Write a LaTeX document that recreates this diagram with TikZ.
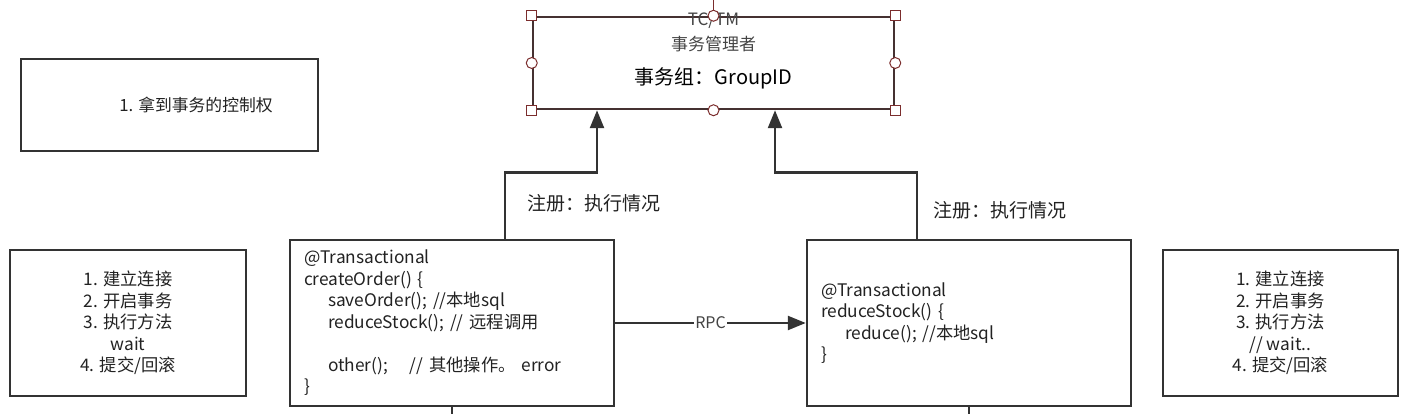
\documentclass[tikz,border=0pt]{standalone}
\usepackage{fontspec}
\setmainfont{Noto Sans CJK SC}
\usetikzlibrary{arrows.meta}
\definecolor{linegray}{HTML}{333333}
\definecolor{handlered}{HTML}{7B2D2D}
\definecolor{textgray}{HTML}{444444}
\definecolor{inkgray}{HTML}{222222}

\begin{document}
\begin{tikzpicture}[x=1pt,y=1pt,line width=2.5pt,
	box/.style={draw=linegray,rectangle,inner sep=0pt,text=inkgray},
	code/.style={box,minimum width=324,minimum height=166,text width=296,align=left,font=\fontsize{17.3}{21.5}\selectfont},
	steps/.style={box,minimum height=146,align=center,font=\fontsize{17.3}{21.5}\selectfont},
	handle/.style={draw=handlered,fill=white,line width=1pt,minimum size=10,inner sep=0pt},
	flow/.style={draw=linegray,-{Triangle[length=18pt,width=14pt]}}]

\useasboundingbox (0,0) rectangle (1410,414);

\node[box,draw=linegray!75!handlered,minimum width=361,minimum height=92](tm) at (713.5,351){};
\node[text=textgray,font=\fontsize{17}{20}\selectfont](tctm) at (713.5,394){TC/TM};
\node[text=textgray,font=\fontsize{17}{20}\selectfont](mgr) at (713.5,370){事务管理者};
\node[text=black,font=\fontsize{20}{24}\selectfont](group) at (713.5,336){事务组：GroupID};

\node[box,minimum width=297,minimum height=92,font=\fontsize{16.8}{20}\selectfont](grab) at (169.5,309){\hspace*{53pt}1. 拿到事务的控制权};

\node[steps,minimum width=236](steps1) at (128,91){1. 建立连接\\2. 开启事务\\3. 执行方法\\wait\\4. 提交/回滚};
\node[steps,minimum width=235](steps2) at (1280.5,91){1. 建立连接\\2. 开启事务\\3. 执行方法\\// wait..\\4. 提交/回滚};

\node[code](co) at (452,91){@Transactional\\createOrder() \{\\\hspace*{24pt}saveOrder(); //本地sql\\\hspace*{24pt}reduceStock(); // 远程调用\\\mbox{}\\\hspace*{24pt}other();\hspace{22pt}// 其他操作。 error\\\}};
\node[code](rs) at (969,91){@Transactional\\reduceStock() \{\\\hspace*{24pt}reduce(); //本地sql\\\}};

\node[text=inkgray,font=\fontsize{19}{22}\selectfont](reg1) at (594,211){注册：执行情况};
\node[text=inkgray,font=\fontsize{19}{22}\selectfont](reg2) at (1000,204){注册：执行情况};

% register with the manager
\draw[flow]([xshift=53]co.north) -- ++(0,66) -| ([xshift=-116.5]tm.south);
\draw[flow]([xshift=-52]rs.north) -- ++(0,66) -| ([xshift=61.5]tm.south);
\draw[flow](co) -- node[fill=white,text=textgray,inner sep=1pt,font=\fontsize{16}{19}\selectfont](rpc){RPC} (rs);

% lines leaving the picture
\coordinate(out1) at (452,0);
\coordinate(out2) at (969,0);
\draw[linegray](co.south) -- (out1);
\draw[linegray](rs.south) -- (out2);

% selection handles
\coordinate(rot) at (713.5,414);
\draw[handlered,line width=1pt](tm.north) -- (rot);
\foreach \a/\n in {north west/hnw,north east/hne,south west/hsw,south east/hse}
	\node[handle](\n) at (tm.\a){};
\foreach \a/\n in {north/hn,south/hs,west/hw,east/he}
	\node[handle,circle,minimum size=11](\n) at (tm.\a){};

\end{tikzpicture}
\end{document}
